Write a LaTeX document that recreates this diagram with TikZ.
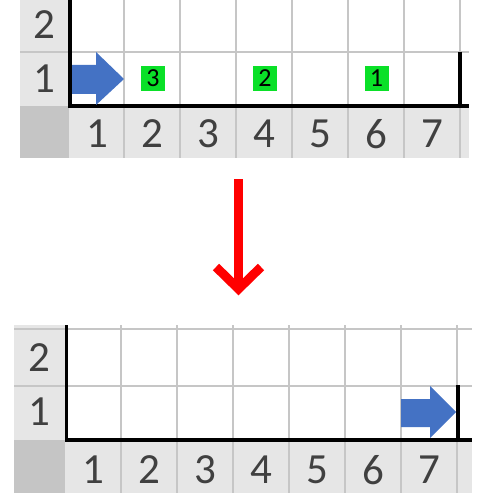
\documentclass[tikz,border=0pt]{standalone}
\usepackage{fontspec}
\newfontfamily\hdrfont{Carlito}
\definecolor{hdrbg}{RGB}{230,230,230}
\definecolor{cornerbg}{RGB}{197,197,197}
\definecolor{gridgray}{RGB}{198,198,198}
\definecolor{hdrtxt}{RGB}{64,64,64}
\definecolor{arrowblue}{RGB}{68,114,196}
\definecolor{markgreen}{RGB}{10,224,40}
\definecolor{redarr}{RGB}{255,0,0}
\tikzset{
  gridline/.style={draw=gridgray, line width=2.2pt},
  border/.style={draw=black, line width=3.8pt, line join=miter},
  hdr/.style={inner sep=0pt, text=hdrtxt, font=\hdrfont\fontsize{43}{43}\selectfont},
  mk/.style={fill=markgreen, minimum width=24pt, minimum height=25pt, inner sep=0pt, text=black, font=\hdrfont\fontsize{26}{26}\selectfont},
  bluearrow/.style={fill=arrowblue},
  redarrow/.style={draw=redarr, line width=9pt, line join=miter, line cap=butt}
}
\begin{document}
\begin{tikzpicture}[x=1pt,y=-1pt]
\useasboundingbox (0,0) rectangle (500,500);
\fill[white] (0,0) rectangle (500,500);
% ---------- top grid ----------
\fill[hdrbg] (20,0) rectangle (69,106);
\fill[hdrbg] (69,106) rectangle (469,158);
\fill[cornerbg] (20,106) rectangle (69,158);
\foreach \x in {124,180,236,292,348,404,460} \draw[gridline] (\x,0) -- (\x,158);
\draw[gridline] (20,52) -- (469,52);
\draw[border] (70,0) -- (70,106) -- (469,106);
\draw[border] (460,52) -- (460,106);
\node[hdr] (tr2) at (44.5,25) {2};
\node[hdr] (tr1) at (44.5,79) {1};
\foreach \x/\n in {97/1,152/2,208/3,264/4,320/5,376/6,432/7}
  \node[hdr] (tc\n) at (\x,134) {\n};
\fill[bluearrow] (72,65) -- (96,65) -- (96,52) -- (124,79) -- (96,105) -- (96,94) -- (72,94) -- cycle;
\node[mk] (m3) at (153,78.5) {3};
\node[mk] (m2) at (265,78.5) {2};
\node[mk] (m1) at (376.5,78.5) {1};
% ---------- red arrow ----------
\coordinate (rs) at (238.5,179);
\coordinate (rt) at (238.5,289);
\draw[redarrow] (rs) -- (rt);
\draw[redarrow] (216,267) -- (rt) -- (261,267);
% ---------- bottom grid ----------
\fill[hdrbg] (14,325) rectangle (65,440);
\fill[hdrbg] (65,440) rectangle (472,493);
\fill[cornerbg] (14,440) rectangle (65,493);
\foreach \x in {121,177,233,289,345,401,457} \draw[gridline] (\x,325) -- (\x,493);
\draw[gridline] (14,329) -- (472,329);
\draw[gridline] (14,386) -- (472,386);
\draw[border] (66.5,325) -- (66.5,440) -- (472,440);
\draw[border] (458,385) -- (458,440);
\node[hdr] (br2) at (39.5,358) {2};
\node[hdr] (br1) at (39.5,412) {1};
\foreach \x/\n in {93.5/1,149/2,205/3,261/4,317/5,373/6,429/7}
  \node[hdr] (bc\n) at (\x,470) {\n};
\fill[bluearrow] (401,399) -- (430,399) -- (430,386) -- (456,412) -- (430,438) -- (430,427) -- (401,427) -- cycle;
\end{tikzpicture}
\end{document}
